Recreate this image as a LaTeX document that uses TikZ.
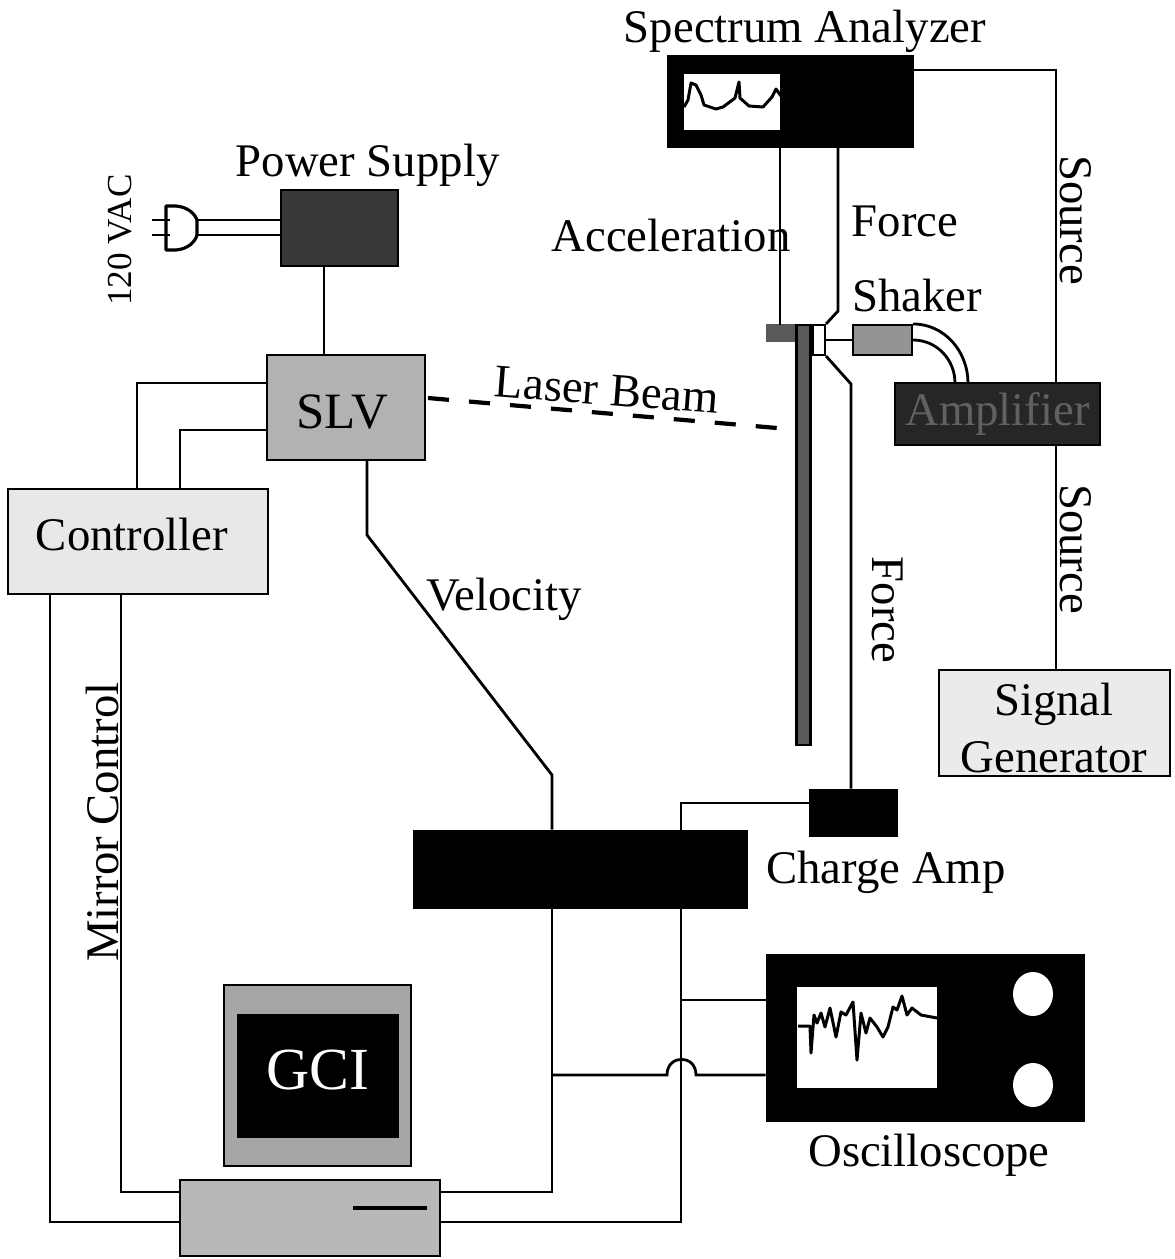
\documentclass[tikz,border=0pt]{standalone}
\usepackage{fontspec}
\setmainfont{Liberation Serif}
\usetikzlibrary{shapes,arrows,positioning}
\tikzstyle{lbl}=[font=\fontsize{26.6}{32}\selectfont,inner sep=0pt,align=center]
\tikzstyle{box}=[rectangle,draw,line width=1.2pt,inner sep=0pt,align=center,font=\fontsize{26.6}{32}\selectfont]
\tikzstyle{blackbox}=[rectangle,draw,fill=black,inner sep=0pt]
\tikzstyle{screen}=[rectangle,fill=white,inner sep=0pt]
\tikzstyle{wire}=[line width=1.6pt]
\tikzstyle{trace}=[line width=1.7pt,line join=round]
\tikzstyle{beamline}=[line width=2.4pt,dash pattern=on 12pt off 11.4pt]

\begin{document}
\begin{tikzpicture}[x=0.02cm,y=-0.02cm]
\useasboundingbox (0,0) rectangle (1175,1259);
\node[blackbox,minimum width=4.92cm,minimum height=1.84cm] (specan) at (790,101) {};
\node[screen,minimum width=1.92cm,minimum height=1.12cm] (specscr) at (732,102) {};
\node[box,fill=black!78,minimum width=2.34cm,minimum height=1.52cm] (power) at (339.5,228) {};
\node[box,fill=black!30,minimum width=3.16cm,minimum height=2.1cm] (slv) at (346,407.5) {};
\node[box,fill=black!9,minimum width=5.2cm,minimum height=2.1cm] (ctrl) at (138,541.5) {};
\node[box,fill=black!65,draw=black!65,minimum width=0.58cm,minimum height=0.32cm] (accel) at (782,333) {};
\node[box,fill=black!65,minimum width=0.28cm,minimum height=8.4cm] (cantilever) at (803.5,535) {};
\node[box,fill=white,minimum width=0.24cm,minimum height=0.6cm] (gauge) at (819,340) {};
\node[box,fill=black!42,minimum width=1.18cm,minimum height=0.6cm] (shaker) at (882.5,340) {};
\node[box,fill=black!85,minimum width=4.1cm,minimum height=1.24cm,text=black!62] (amp) at (997.5,414) {Amplifier};
\node[box,fill=black!8,minimum width=4.62cm,minimum height=2.12cm] (siggen) at (1054.5,723) {};
\node[blackbox,minimum width=1.76cm,minimum height=0.94cm] (charge) at (853,812.5) {};
\node[blackbox,minimum width=6.68cm,minimum height=1.56cm] (recorder) at (580,869) {};
\node[blackbox,minimum width=6.36cm,minimum height=3.34cm] (scope) at (925,1037.5) {};
\node[screen,minimum width=2.8cm,minimum height=2.02cm] (scopescr) at (867,1037.5) {};
\node[ellipse,fill=white,inner sep=0pt,minimum width=0.8cm,minimum height=0.88cm] (knobA) at (1033,994) {};
\node[ellipse,fill=white,inner sep=0pt,minimum width=0.8cm,minimum height=0.88cm] (knobB) at (1033,1085) {};
\node[box,fill=black!35,minimum width=3.74cm,minimum height=3.62cm] (monitor) at (317.5,1075.5) {};
\node[blackbox,minimum width=3.22cm,minimum height=2.46cm] (gci) at (317.5,1075.5) {};
\node[box,fill=black!28,minimum width=5.2cm,minimum height=1.52cm] (pc) at (310,1218) {};

\node[lbl,font=\fontsize{29}{32}\selectfont] (slvlbl) at (342,412) {SLV};
\node[lbl] (ctrllbl) at (132,535) {Controller};
\node[lbl] (siglbl) at (1054,728) {Signal\\Generator};
\node[lbl,text=white,font=\fontsize{34}{38}\selectfont] (gcilbl) at (318,1070) {GCI};
\node[lbl] (specanlbl) at (805,31) {Spectrum Analyzer};
\node[lbl,above=1.4pt of power,xshift=16pt] (powerlbl) {Power Supply};
\node[lbl,font=\fontsize{20}{24}\selectfont,rotate=90] (vaclbl) at (120,240) {120 VAC};
\node[lbl] (acclbl) at (671,236) {Acceleration};
\node[lbl] (forcelbl) at (905,221) {Force};
\node[lbl] (shakerlbl) at (917,296) {Shaker};
\node[lbl,rotate=-90] (srclblA) at (1076,220) {Source};
\node[lbl,rotate=-90] (srclblB) at (1076,549) {Source};
\node[lbl,rotate=-90] (forcelblB) at (888,610) {Force};
\node[lbl,rotate=-4.5] (laserlbl) at (607,390) {Laser Beam};
\node[lbl] (vellbl) at (504,599) {Velocity};
\node[lbl,rotate=90] (mirrorlbl) at (103,822) {Mirror Control};
\node[lbl] (chargelbl) at (886,872) {Charge Amp};
\node[lbl] (scopelbl) at (929,1155) {Oscilloscope};

\coordinate (srccorner) at (1056,70);
\coordinate (accwire) at (780,325);
\coordinate (forcebendA) at (838,311);
\coordinate (forcebendB) at (851,384);
\coordinate (velbendA) at (367,535);
\coordinate (velbendB) at (552,775);
\coordinate (chargecorner) at (681,803);
\coordinate (ctrlA) at (137,383);
\coordinate (ctrlB) at (180,430);
\coordinate (mirrorA) at (50,1222);
\coordinate (mirrorB) at (121,1192);
\coordinate (supplyline) at (324,300);
\coordinate (scopetap) at (681,1000);
\coordinate (outerend) at (968,383);
\coordinate (innerend) at (955,383);
\coordinate (hopA) at (667,1075);
\coordinate (hopB) at (696,1075);
\coordinate (beamstart) at (428,398);
\coordinate (beamend) at (777,428);
\coordinate (plugA) at (197,220);
\coordinate (plugB) at (197,235);

\draw[wire] (specan.east |- srccorner) -- (srccorner) -- (amp.north -| srccorner);
\draw[wire] (amp.south -| srccorner) -- (siggen.north -| srccorner);
\draw[wire] (specan.south -| accwire) -- (accwire);
\draw[wire] (specan.south -| forcebendA) -- (forcebendA) -- (gauge.north east);
\draw[wire] (gauge.south east) -- (forcebendB) -- (charge.north -| forcebendB);
\draw[wire] (gauge.east) -- (shaker.west);
\draw[wire] (shaker.north east) to[out=0,in=90] (outerend);
\draw[wire] (shaker.east) to[out=0,in=90] (innerend);
\draw[wire] (power.south -| supplyline) -- (slv.north -| supplyline);
\draw[wire] (plugA) -- (power.west |- plugA);
\draw[wire] (plugB) -- (power.west |- plugB);
\draw[wire] (ctrl.north -| ctrlA) -- (ctrlA) -- (slv.west |- ctrlA);
\draw[wire] (ctrl.north -| ctrlB) -- (ctrlB) -- (slv.west |- ctrlB);
\draw[wire] (ctrl.south -| mirrorA) -- (mirrorA) -- (pc.west |- mirrorA);
\draw[wire] (ctrl.south -| mirrorB) -- (mirrorB) -- (pc.west |- mirrorB);
\draw[wire] (slv.south -| velbendA) -- (velbendA) -- (velbendB) -- (recorder.north -| velbendB);
\draw[wire] (recorder.south -| velbendB) -- (velbendB |- mirrorB) -- (pc.east |- mirrorB);
\draw[wire] (charge.west |- chargecorner) -- (chargecorner) -- (recorder.north -| chargecorner);
\draw[wire] (recorder.south -| chargecorner) -- (chargecorner |- mirrorA) -- (pc.east |- mirrorA);
\draw[wire] (scopetap) -- (scope.west |- scopetap);
\draw[wire] (velbendB |- hopA) -- (hopA) .. controls (667,1054) and (696,1054) .. (hopB) -- (scope.west |- hopB);
\draw[beamline] (beamstart) -- (beamend);

\draw[line width=1.8pt,line join=round] (166,206) -- (176,206) .. controls (188,207) and (195,214) .. (197,220) -- (197,235) .. controls (195,242) and (188,249) .. (176,250) -- (166,250) -- cycle;
\draw[wire] (152,220) -- (170,220);
\draw[wire] (152,235) -- (170,235);
\draw[line width=2pt] (353,1208) -- (427,1208);

\draw[trace] plot coordinates {(684,107) (688,100) (691,83) (696,85) (701,95) (704,105) (716,109) (723,107) (735,98) (739,82) (740,98) (749,106) (763,107) (772,97) (776,89) (781,96)};
\draw[trace] plot coordinates {(798,1026) (810,1026) (811,1053) (814,1015) (817,1023) (821,1013) (825,1027) (830,1008) (836,1037) (841,1012) (846,1015) (853,1002) (857,1060) (861,1013) (866,1033) (870,1018) (877,1027) (883,1037) (888,1027) (893,1007) (897,1010) (902,996) (907,1015) (912,1008) (921,1015) (937,1018)};
\end{tikzpicture}
\end{document}
